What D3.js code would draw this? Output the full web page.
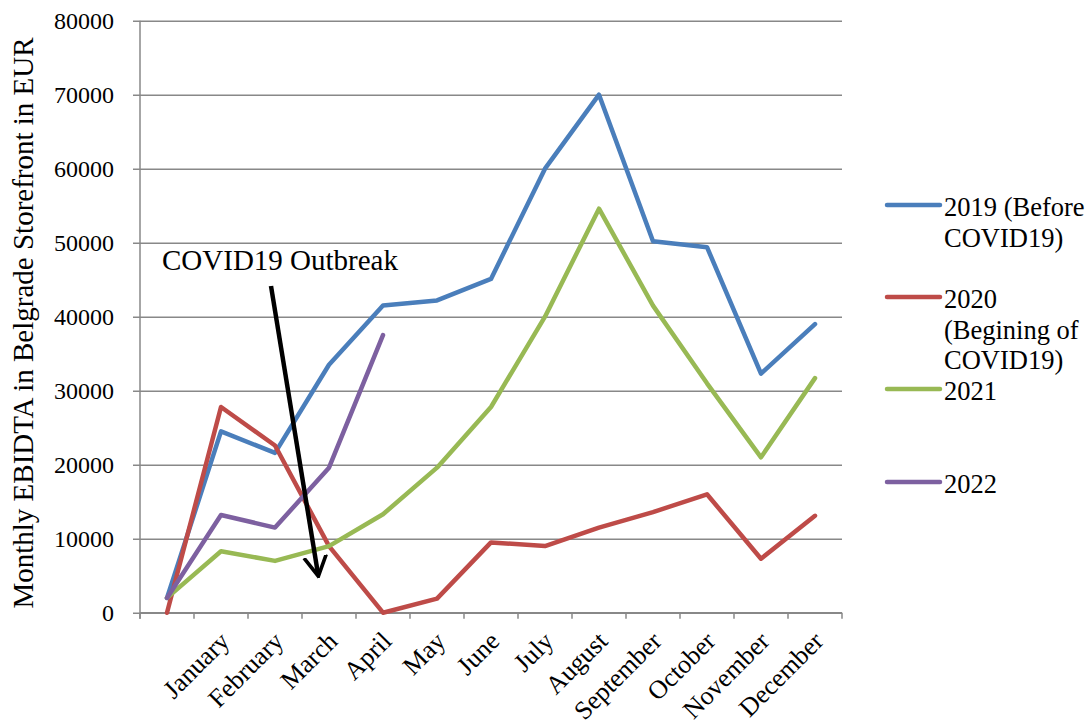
<!DOCTYPE html>
<html>
<head>
<meta charset="utf-8">
<script src="https://cdn.jsdelivr.net/npm/d3@7"></script>
<style>
  body { margin: 0; background: #fff; }
  text { font-family: 'Liberation Serif', 'Times New Roman', serif; fill: #000; }
</style>
</head>
<body>
<svg width="1090" height="723"></svg>
<script>
const months = ['', 'January', 'February', 'March', 'April', 'May', 'June', 'July',
    'August', 'September', 'October', 'November', 'December'];
const y2019 = [2000, 24500, 21600, 33500, 41500, 42200, 45100, 60000, 70000, 50200, 49400, 32300, 39000];
const y2020 = [0, 27800, 22600, 9000, 0, 1900, 9500, 9000, 11500, 13600, 16000, 7300, 13100];
const y2021 = [2000, 8300, 7000, 9000, 13300, 19600, 27800, 40000, 54600, 41500, 31000, 21000, 31700];
const y2022 = [2000, 13200, 11500, 19600, 37500];
const yTicks = [0, 10000, 20000, 30000, 40000, 50000, 60000, 70000, 80000];

const series = [
    { name: ['2019 (Before', 'COVID19)'], values: y2019, color: '#4A7EBB', ly: 205 },
    { name: ['2020', '(Begining of', 'COVID19)'], values: y2020, color: '#BE4B48', ly: 297 },
    { name: ['2021'], values: y2021, color: '#98B954', ly: 389 },
    { name: ['2022'], values: y2022, color: '#7D60A0', ly: 482 }
];

const svg = d3.select('svg');
const plotL = 140, plotR = 842, plotT = 20.7, plotB = 612.7;

const x = d3.scaleBand().domain(d3.range(months.length)).range([plotL, plotR]);
const y = d3.scaleLinear().domain([0, 80000]).range([plotB, plotT]);
const cx = i => x(i) + x.bandwidth() / 2;

// gridlines + y axis
const yAxis = d3.axisLeft(y).tickValues(yTicks).tickSize(-(plotR - plotL)).tickPadding(26).tickFormat(d3.format('d'));
const gy = svg.append('g').attr('transform', `translate(${plotL},0)`).call(yAxis);
gy.select('.domain').remove();
gy.selectAll('line').attr('x1', -7).attr('stroke', '#888').attr('stroke-width', 1.5);
gy.selectAll('text').style('font-size', '24px').attr('dy', '0.34em');

svg.append('line').attr('x1', plotL).attr('x2', plotL).attr('y1', plotT).attr('y2', plotB + 6)
    .attr('stroke', '#888').attr('stroke-width', 1.5);

// x axis
svg.append('line').attr('x1', plotL).attr('x2', plotR).attr('y1', plotB).attr('y2', plotB)
    .attr('stroke', '#888').attr('stroke-width', 1.5);
svg.selectAll('.xtick').data(d3.range(months.length + 1)).join('line')
    .attr('x1', i => plotL + i * x.bandwidth()).attr('x2', i => plotL + i * x.bandwidth())
    .attr('y1', plotB).attr('y2', plotB + 6)
    .attr('stroke', '#888').attr('stroke-width', 1.5);
svg.selectAll('.xlab').data(months).join('text')
    .attr('text-anchor', 'end')
    .attr('transform', (d, i) => `translate(${cx(i) + 10},${plotB + 30}) rotate(-45)`)
    .style('font-size', '26px')
    .text(d => d);

// lines
const line = d3.line().x((d, i) => cx(i)).y(d => y(d));
series.forEach(s => {
    svg.append('path').datum(s.values)
        .attr('d', line)
        .attr('fill', 'none')
        .attr('stroke', s.color)
        .attr('stroke-width', 4.5)
        .attr('stroke-linejoin', 'round')
        .attr('stroke-linecap', 'round');
});

// annotation
svg.append('defs').append('marker')
    .attr('id', 'arrow').attr('viewBox', '0 0 10 10').attr('refX', 8).attr('refY', 5)
    .attr('markerWidth', 5).attr('markerHeight', 6).attr('orient', 'auto')
    .append('path').attr('d', 'M0,0 L9,5 L0,10').attr('fill', 'none').attr('stroke', '#000').attr('stroke-width', 1.6);
svg.append('line').attr('x1', 271).attr('y1', 286).attr('x2', 318).attr('y2', 574)
    .attr('stroke', '#000').attr('stroke-width', 4.5).attr('marker-end', 'url(#arrow)');
svg.append('text').attr('x', 162).attr('y', 270).style('font-size', '29px').text('COVID19 Outbreak');

// y title
svg.append('text').attr('transform', `translate(33,323) rotate(-90)`)
    .attr('text-anchor', 'middle').style('font-size', '29px')
    .text('Monthly EBIDTA in Belgrade Storefront in EUR');

// legend
series.forEach(s => {
    svg.append('line').attr('x1', 887).attr('x2', 940).attr('y1', s.ly).attr('y2', s.ly)
        .attr('stroke', s.color).attr('stroke-width', 4.5).attr('stroke-linecap', 'round');
    s.name.forEach((t, k) => {
        svg.append('text').attr('x', 944).attr('y', s.ly + 11 + k * 30.5)
            .style('font-size', '26.5px').text(t);
    });
});
</script>
</body>
</html>
